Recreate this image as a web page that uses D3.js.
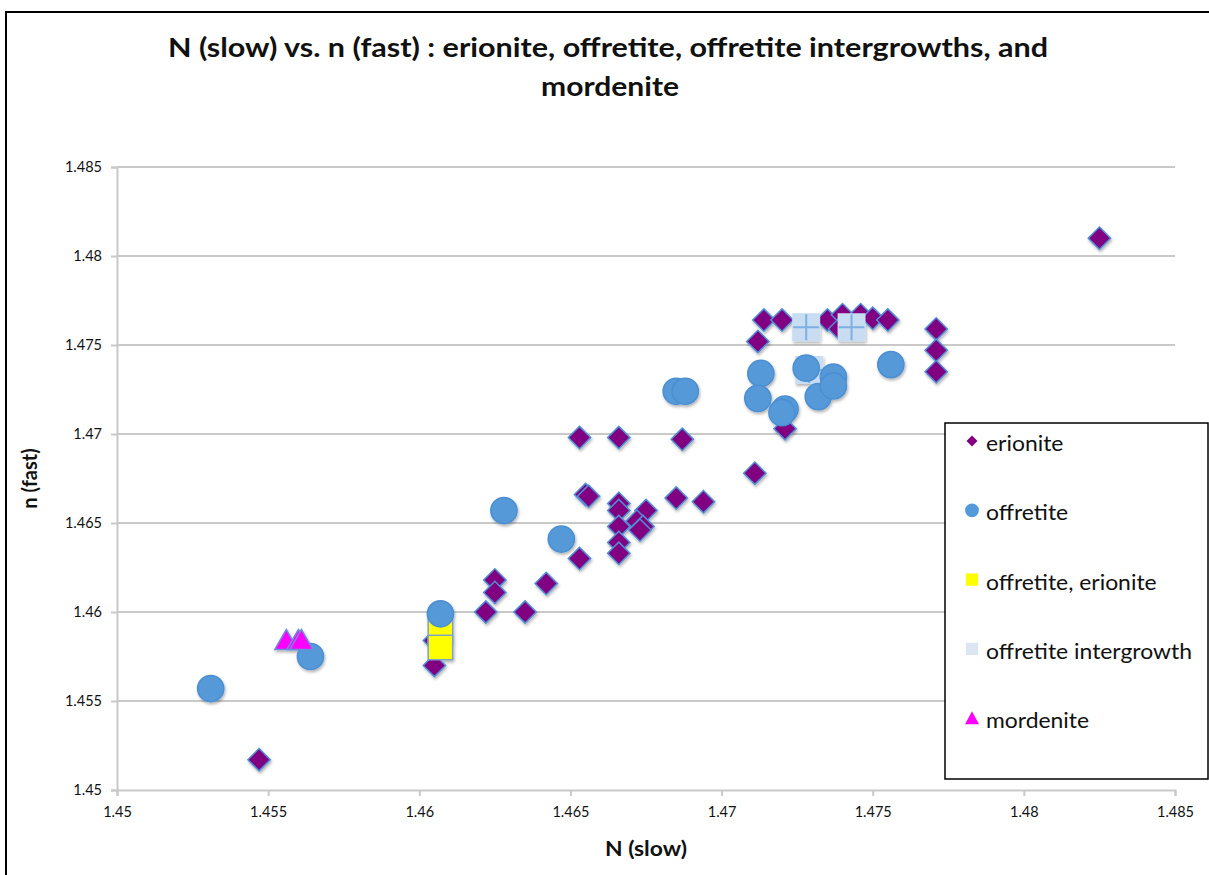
<!DOCTYPE html>
<meta charset="utf-8">
<style>
  body { margin: 0; background: #fff; }
  text { font-family: Lato, "Open Sans", sans-serif; fill: #111; }
  .tick text { font-size: 14.5px; }
  .axis path, .axis line { stroke: #c9c9c9; stroke-width: 2; }
</style>
<body>
<div id="chart"></div>
<script src="https://d3js.org/d3.v7.min.js"></script>
<script>
  // N (slow), n (fast) pairs per series
  var erionite = [
    [1.4825, 1.4810], [1.4547, 1.4517], [1.4714, 1.4764], [1.4720, 1.4764],
    [1.4735, 1.4764], [1.4740, 1.4767], [1.4746, 1.4767], [1.4750, 1.4765],
    [1.4755, 1.4764], [1.4739, 1.4759], [1.4712, 1.4752], [1.4771, 1.4759],
    [1.4771, 1.4747], [1.4771, 1.4735], [1.4721, 1.4703], [1.4711, 1.4678],
    [1.4653, 1.4698], [1.4666, 1.4698], [1.4687, 1.4697], [1.4655, 1.4666],
    [1.4656, 1.4665], [1.4685, 1.4664], [1.4694, 1.4662], [1.4666, 1.4661],
    [1.4666, 1.4657], [1.4666, 1.4648], [1.4666, 1.4639], [1.4666, 1.4633],
    [1.4675, 1.4657], [1.4672, 1.4651], [1.4674, 1.4648], [1.4673, 1.4646],
    [1.4653, 1.4630], [1.4642, 1.4616], [1.4625, 1.4618], [1.4625, 1.4611],
    [1.4622, 1.4600], [1.4635, 1.4600], [1.4605, 1.4570], [1.4605, 1.4584]
  ];
  var offretite = [
    [1.4531, 1.4557], [1.4564, 1.4575], [1.4607, 1.4599], [1.4628, 1.4657],
    [1.4647, 1.4641], [1.4685, 1.4724], [1.4688, 1.4724], [1.4713, 1.4734],
    [1.4712, 1.4720], [1.4721, 1.4714], [1.4720, 1.4712], [1.4728, 1.4737],
    [1.4732, 1.4721], [1.4737, 1.4732], [1.4737, 1.4727], [1.4756, 1.4739]
  ];
  var offretiteErionite = [[1.4607, 1.4589], [1.4607, 1.4580]];
  var intergrowth = [[1.4728, 1.4760], [1.4743, 1.4760], [1.4729, 1.4736]];
  var mordenite = [[1.4556, 1.4584], [1.4560, 1.4584], [1.4561, 1.4584]];

  var seriesNames = ["erionite", "offretite", "offretite, erionite", "offretite intergrowth", "mordenite"];
  var ticks = [1.45, 1.455, 1.46, 1.465, 1.47, 1.475, 1.48, 1.485];

  var W = 1209, H = 875;
  var margin = { top: 167, right: 34, bottom: 85, left: 117 };
  var width = W - margin.left - margin.right;
  var height = H - margin.top - margin.bottom;

  var svg = d3.select("#chart").append("svg")
    .attr("width", W)
    .attr("height", H);

  var defs = svg.append("defs");
  defs.append("filter").attr("id", "shadow")
    .attr("x", "-50%").attr("y", "-50%").attr("width", "200%").attr("height", "200%")
    .append("feDropShadow")
    .attr("dx", 1).attr("dy", 2).attr("stdDeviation", 1.5)
    .attr("flood-color", "#000").attr("flood-opacity", 0.3);

  // outer chart border
  svg.append("rect")
    .attr("x", 6).attr("y", 12)
    .attr("width", W + 20).attr("height", H + 20)
    .attr("fill", "none").attr("stroke", "#000").attr("stroke-width", 2);

  // the picture is a bit stretched sideways, so the wide texts get a textLength
  svg.append("text")
    .attr("x", 608).attr("y", 57)
    .attr("text-anchor", "middle")
    .attr("textLength", 880).attr("lengthAdjust", "spacingAndGlyphs")
    .style("font-size", "27px").style("font-weight", "bold")
    .text("N (slow) vs. n (fast) : erionite, offretite, offretite intergrowths, and");
  svg.append("text")
    .attr("x", 610).attr("y", 96)
    .attr("text-anchor", "middle")
    .attr("textLength", 138).attr("lengthAdjust", "spacingAndGlyphs")
    .style("font-size", "27px").style("font-weight", "bold")
    .text("mordenite");

  var x = d3.scaleLinear().domain([1.45, 1.485]).range([0, width]);
  var y = d3.scaleLinear().domain([1.45, 1.485]).range([height, 0]);
  var fmt = function (d) { return String(+d.toFixed(3)); };

  var g = svg.append("g")
    .attr("transform", "translate(" + margin.left + "," + margin.top + ")");

  // horizontal gridlines
  g.append("g").selectAll("line")
    .data(ticks.slice(1))
    .enter().append("line")
    .attr("x1", 0).attr("x2", width)
    .attr("y1", d => y(d)).attr("y2", d => y(d))
    .attr("stroke", "#c9c9c9").attr("stroke-width", 2);

  g.append("g")
    .attr("class", "axis")
    .attr("transform", "translate(0," + height + ")")
    .call(d3.axisBottom(x).tickValues(ticks).tickFormat(fmt).tickSizeOuter(0).tickSize(6).tickPadding(11));
  g.append("g")
    .attr("class", "axis")
    .call(d3.axisLeft(y).tickValues(ticks).tickFormat(fmt).tickSizeOuter(0).tickSize(6).tickPadding(9));

  svg.append("text")
    .attr("x", margin.left + width / 2).attr("y", 856)
    .attr("text-anchor", "middle")
    .attr("textLength", 82).attr("lengthAdjust", "spacingAndGlyphs")
    .style("font-size", "21px").style("font-weight", "bold")
    .text("N (slow)");
  svg.append("text")
    .attr("transform", "translate(37," + (margin.top + height / 2) + ") rotate(-90)")
    .attr("text-anchor", "middle")
    .style("font-size", "20px").style("font-weight", "bold")
    .text("n (fast)");

  // marker shapes
  var diamond = d3.symbol().type(d3.symbolSquare).size(250)();
  var circle = d3.symbol().type(d3.symbolCircle).size(540)();
  var square = d3.symbol().type(d3.symbolSquare).size(600)();
  var bigSquare = d3.symbol().type(d3.symbolSquare).size(700)();
  var tri = "M0,-11L11.5,9L-11.5,9Z";

  var marks = g.append("g").attr("filter", "url(#shadow)");

  function plot(data, path, fill, stroke, rot) {
    marks.append("g").selectAll("path")
      .data(data)
      .enter().append("path")
      .attr("d", path)
      .attr("transform", d => "translate(" + x(d[0]) + "," + y(d[1]) + ")" + (rot ? " rotate(45)" : ""))
      .attr("fill", fill)
      .attr("stroke", stroke)
      .attr("stroke-width", 1.5);
  }

  plot(erionite, diamond, "#810081", "#4f8fd6", true);
  plot(offretiteErionite, square, "#ffff00", "#7ea3c8", false);
  plot(intergrowth, bigSquare, "#c8dcf2", "#c8dcf2", false);
  // cross inside the intergrowth markers
  marks.append("g").selectAll("path")
    .data(intergrowth)
    .enter().append("path")
    .attr("d", "M-13,0H13M0,-13V13")
    .attr("transform", d => "translate(" + x(d[0]) + "," + y(d[1]) + ")")
    .attr("stroke", "#7fb0e2").attr("stroke-width", 2).attr("fill", "none");
  plot(offretite, circle, "#5499d9", "#4b8fd2", false);
  plot(mordenite, tri, "#ff00ff", "#6d8fd6", false);

  // legend
  var lg = svg.append("g").attr("transform", "translate(945,423)");
  lg.append("rect")
    .attr("width", 263).attr("height", 356)
    .attr("fill", "#fff").attr("stroke", "#000").attr("stroke-width", 1.5);

  var legendShapes = [
    { p: d3.symbol().type(d3.symbolSquare).size(60)(), fill: "#810081", rot: true },
    { p: d3.symbol().type(d3.symbolCircle).size(150)(), fill: "#5499d9" },
    { p: d3.symbol().type(d3.symbolSquare).size(150)(), fill: "#ffff00" },
    { p: d3.symbol().type(d3.symbolSquare).size(150)(), fill: "#dce6f2" },
    { p: "M0,-7L7,6L-7,6Z", fill: "#ff00ff" }
  ];
  var rows = lg.selectAll(".row")
    .data(seriesNames)
    .enter().append("g")
    .attr("class", "row")
    .attr("transform", (d, i) => "translate(0," + (20 + i * 69.3) + ")");
  rows.append("path")
    .attr("d", (d, i) => legendShapes[i].p)
    .attr("fill", (d, i) => legendShapes[i].fill)
    .attr("transform", (d, i) => "translate(27,-2)" + (legendShapes[i].rot ? " rotate(45)" : ""));
  rows.append("text")
    .attr("x", 41).attr("y", 8)
    .style("font-size", "21px")
    .text(d => d)
    .each(function () {
      var w = this.getComputedTextLength();
      d3.select(this).attr("textLength", w * 1.09).attr("lengthAdjust", "spacingAndGlyphs");
    });
</script>
</body>
